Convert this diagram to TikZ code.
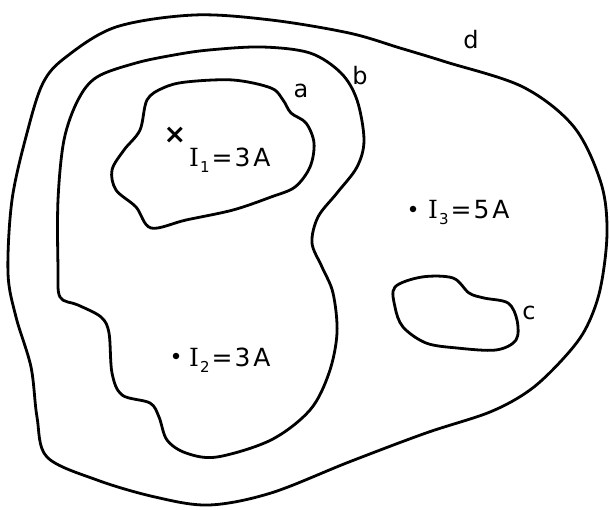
\documentclass[tikz,border=0pt]{standalone}
\usepackage{fontspec}
\setmainfont{DejaVu Sans}
\newfontfamily\serI{DejaVu Serif}
\newcommand{\curlab}[3]{{\serI I}\hspace{1pt}\raisebox{-6pt}{\fontsize{15}{15}\selectfont #1}\hspace{2pt}=\hspace{2pt}#2\hspace{3pt}#3}
\begin{document}
\begin{tikzpicture}[x=1pt,y=-1pt,
  loop/.style={line width=2.8pt, line join=round},
  lbl/.style={font=\fontsize{24}{26}\selectfont, inner sep=0pt},
  curr/.style={font=\fontsize{25}{27}\selectfont, inner sep=0pt, anchor=west},
  spot/.style={circle, fill, inner sep=0pt, minimum size=6.5pt}]
\useasboundingbox (0,0) rectangle (610,510);
% curve d
\draw[loop] plot[smooth cycle, tension=0.55] coordinates {
 (43,83) (66,57) (116,27) (194,15) (271,20) (349,33) (400,48) (446,62) (523,87) (574,127)
 (601,183) (607,233) (600,290) (585,330) (562,360) (530,390) (490,412) (426,433) (349,462)
 (271,493) (209,505) (155,497) (97,480) (47,457) (37,417) (31,367) (16,317) (8,273)
 (12,200) (27,133)};
% curve b
\draw[loop] plot[smooth cycle, tension=0.55] coordinates {
 (209,50) (262,47) (310,53) (341,73) (357,100) (364,140) (357,167) (337,193) (318,217)
 (312,243) (322,267) (333,293) (337,333) (329,373) (310,410) (271,440) (217,457)
 (186,453) (167,440) (159,417) (150,403) (122,395) (112,373) (109,333) (101,317)
 (78,305) (60,297) (58,267) (58,200) (64,140) (78,100) (97,77) (136,63) (174,55)};
% curve a
\draw[loop] plot[smooth cycle, tension=0.55] coordinates {
 (186,82) (233,80) (271,88) (283,100) (291,113) (306,123) (314,143) (310,167) (295,187)
 (271,197) (233,210) (186,220) (151,228) (136,207) (116,190) (112,170) (124,150)
 (140,130) (147,100) (163,88)};
% curve c
\draw[loop] plot[smooth cycle, tension=0.55] coordinates {
 (395,287) (422,277) (453,278) (469,293) (484,298) (508,303) (517,320) (516,340)
 (496,350) (457,348) (426,343) (403,327) (395,307)};
% labels
\node[lbl] (la) at (301,91) {a};
\node[lbl] (lb) at (360,76) {b};
\node[lbl] (lc) at (529,313) {c};
\node[lbl] (ld) at (471,40) {d};
\node[font=\fontsize{27}{28}\selectfont\bfseries, inner sep=0pt] (x1) at (175,135) {×};
\node[curr] (i1) at (189,160) {\curlab{1}{3}{A}};
\node[spot] (p2) at (176,356) {};
\node[curr] (i2) at (189,360) {\curlab{2}{3}{A}};
\node[spot] (p3) at (413,209) {};
\node[curr] (i3) at (428,212) {\curlab{3}{5}{A}};
\end{tikzpicture}
\end{document}
